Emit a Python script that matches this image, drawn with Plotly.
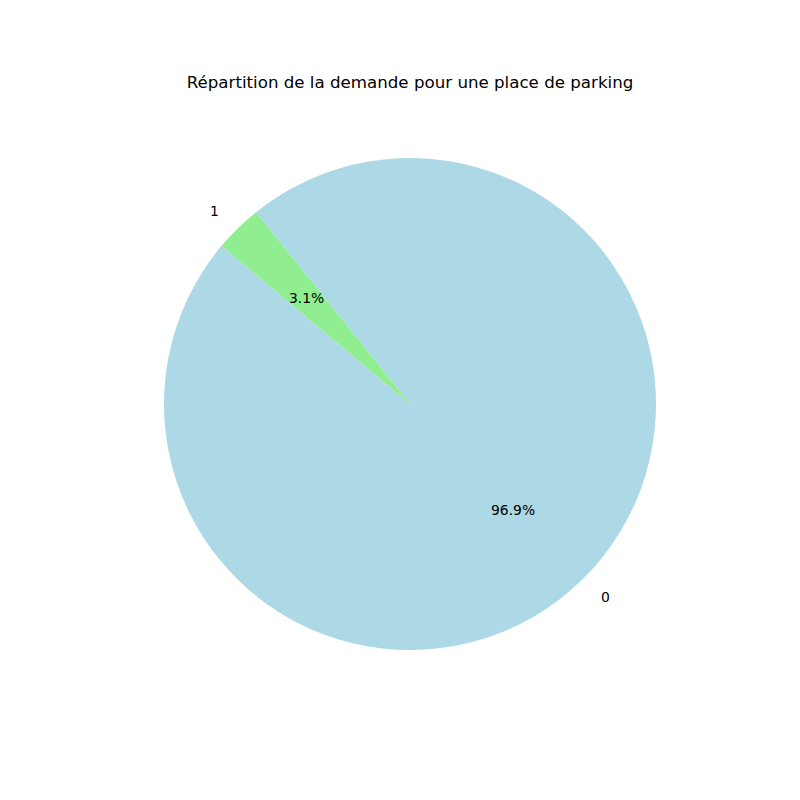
import math
import plotly.graph_objects as go

labels = ["0", "1"]
values = [96.875, 3.125]
colors = ["#ADD8E6", "#90EE90"]
title = "Répartition de la demande pour une place de parking"
start_angle = 140  # degrees, matplotlib convention (counterclockwise from 3 o'clock)

W = H = 800
cx, cy, r = 410, 404, 246  # pixel centre and radius

dom_x = [(cx - r) / W, (cx + r) / W]
dom_y = [1 - (cy + r) / H, 1 - (cy - r) / H]

total = sum(values)
first_span = 360 * values[0] / total

fig = go.Figure(go.Pie(
    labels=labels, values=values, sort=False, direction="counterclockwise",
    rotation=90 - (start_angle + first_span),
    marker=dict(colors=colors, line=dict(width=0)),
    textinfo="none", hoverinfo="label+percent",
    domain=dict(x=dom_x, y=dom_y), showlegend=False,
))

annotations = []
theta = start_angle
for lab, v in zip(labels, values):
    span = 360 * v / total
    mid = math.radians(theta + span / 2)
    theta += span
    c, s = math.cos(mid), math.sin(mid)
    # outer label at 1.1 r
    lx, ly = cx + 1.1 * r * c, cy - 1.1 * r * s
    annotations.append(dict(
        x=lx / W, y=1 - ly / H, xref="paper", yref="paper", text=lab,
        showarrow=False, xanchor="left" if c > 0 else "right", yanchor="middle",
        font=dict(family="DejaVu Sans", size=13.9, color="black")))
    # percentage at 0.6 r
    px, py = cx + 0.6 * r * c, cy - 0.6 * r * s
    annotations.append(dict(
        x=px / W, y=1 - py / H, xref="paper", yref="paper",
        text=f"{100 * v / total:.1f}%",
        showarrow=False, xanchor="center", yanchor="middle",
        font=dict(family="DejaVu Sans", size=13.9, color="black")))

fig.update_layout(
    width=W, height=H, margin=dict(l=0, r=0, t=0, b=0),
    paper_bgcolor="white", plot_bgcolor="white",
    title=dict(text=title, x=410 / W, xanchor="center", y=1 - 82 / H, yanchor="middle",
               font=dict(family="DejaVu Sans", size=16.67, color="black")),
    annotations=annotations,
)

fig.write_html("out.html")
